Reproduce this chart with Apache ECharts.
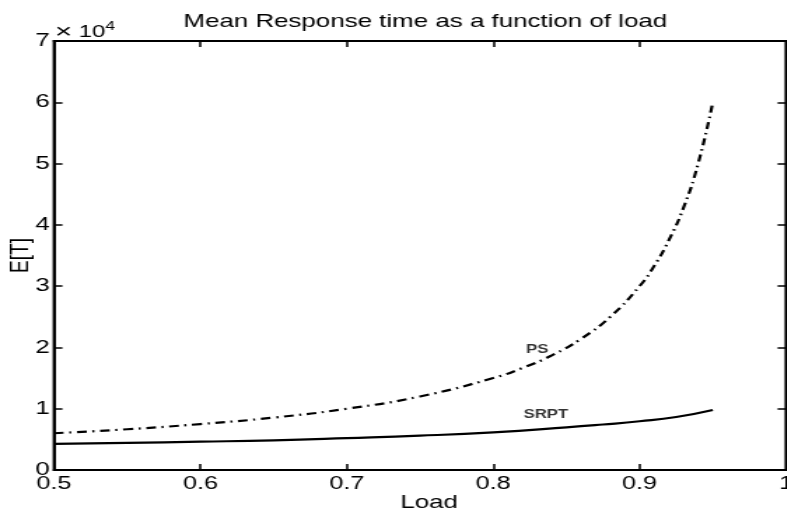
<!DOCTYPE html>
<html><head><meta charset="utf-8">
<script src="https://cdn.jsdelivr.net/npm/echarts@6/dist/echarts.min.js"></script>
<style>
html,body{margin:0;padding:0;background:#fff;overflow:hidden}
#wrap{width:787px;height:514px;overflow:hidden}
#c{width:562px;height:514px;transform:scaleX(1.4);transform-origin:0 0}
</style>
</head><body><div id="wrap"><div id="c"></div></div>
<script>
// values
const loadPS = [0.5,0.55,0.6,0.65,0.7,0.75,0.8,0.82,0.84,0.86,0.88,0.9,0.91,0.92,0.93,0.94,0.95];
const valuesPS = [6000,6650,7500,8550,10000,12000,15000,16650,18700,21400,25000,30000,33300,37500,42800,50000,60000];
const loadSRPT = [0.5,0.55,0.6,0.65,0.7,0.75,0.8,0.85,0.875,0.9,0.925,0.95];
const valuesSRPT = [4250,4420,4620,4850,5200,5600,6150,6950,7420,7950,8650,9800];
const curveLabels = ['PS','SRPT'];
const curveLabelPos = [[0.830,19700],[0.836,8950]];
const xTicks = [0.5,0.6,0.7,0.8,0.9,1];
const yTicks = [0,1,2,3,4,5,6,7];

const F = 'Liberation Sans, Arial, Helvetica, sans-serif';
const chart = echarts.init(document.getElementById('c'));
const axLine = {show:true, onZero:false, lineStyle:{color:'#000', width:2}};
const axTick = {show:true, inside:true, length:6, lineStyle:{color:'#000', width:1.5}};
chart.setOption({
  animation:false,
  backgroundColor:'#fff',
  title:{text:'Mean Response time as a function of load', left:126, top:7,
    textStyle:{fontFamily:F, fontSize:18.5, fontWeight:'normal', color:'#000'}},
  grid:{left:38.6, top:41, right:0.6, bottom:44, show:true, borderColor:'#000', borderWidth:2,
    backgroundColor:'transparent', outerBoundsMode:'none', containLabel:false},
  xAxis:[{type:'value', min:xTicks[0], max:xTicks[xTicks.length-1], interval:0.1, axisLine:axLine, axisTick:axTick,
    splitLine:{show:false},
    name:'Load', nameLocation:'middle', nameGap:23, nameMoveOverlap:false,
    nameTextStyle:{fontFamily:F, fontSize:18.5, color:'#000', padding:[0,0,0,13]},
    axisLabel:{fontFamily:F, fontSize:18, color:'#000', margin:5,
      formatter:v=>{const r=Math.round(v*10)/10; return r===1?'1':r.toFixed(1);}}},
    {type:'value', position:'top', min:xTicks[0], max:xTicks[xTicks.length-1], interval:0.1, axisLine:axLine, axisTick:axTick,
    splitLine:{show:false}, axisLabel:{show:false}}],
  yAxis:[{type:'value', min:yTicks[0]*10000, max:yTicks[yTicks.length-1]*10000, interval:10000, axisLine:axLine, axisTick:axTick,
    splitLine:{show:false},
    name:'E[T]', nameLocation:'middle', nameGap:14, nameMoveOverlap:false,
    nameTextStyle:{fontFamily:F, fontSize:19, color:'#000'},
    axisLabel:{fontFamily:F, fontSize:18.5, color:'#000', margin:3, formatter:v=>String(v/10000)}},
    {type:'value', position:'right', min:yTicks[0]*10000, max:yTicks[yTicks.length-1]*10000, interval:10000, axisLine:axLine, axisTick:axTick,
    splitLine:{show:false}, axisLabel:{show:false}}],
  graphic:[{type:'text', left:39.3, top:20, style:{
    text:'{x|×} 10{s|4}', rich:{
      x:{fontSize:21, fontFamily:F, fill:'#000'},
      s:{fontSize:12.5, verticalAlign:'top', padding:[0,0,11,0], fontFamily:F, fill:'#000'}},
    fontFamily:F, fontSize:17, fill:'#000'}}],
  series:[
    {type:'line', data:loadPS.map((x,i)=>[x,valuesPS[i]]), smooth:true, symbol:'none',
     lineStyle:{color:'#000', width:2.2, type:[7,4,1.5,4]}},
    {type:'line', data:loadSRPT.map((x,i)=>[x,valuesSRPT[i]]), smooth:true, symbol:'none',
     lineStyle:{color:'#000', width:2.2}},
    {type:'scatter', symbolSize:0, silent:true,
     data:curveLabelPos.map((p,i)=>({value:p, name:curveLabels[i]})),
     label:{show:true, position:'inside', formatter:p=>p.name, fontFamily:F, fontSize:12, fontWeight:'bold', color:'#000'}}
  ]
});
</script></body></html>
